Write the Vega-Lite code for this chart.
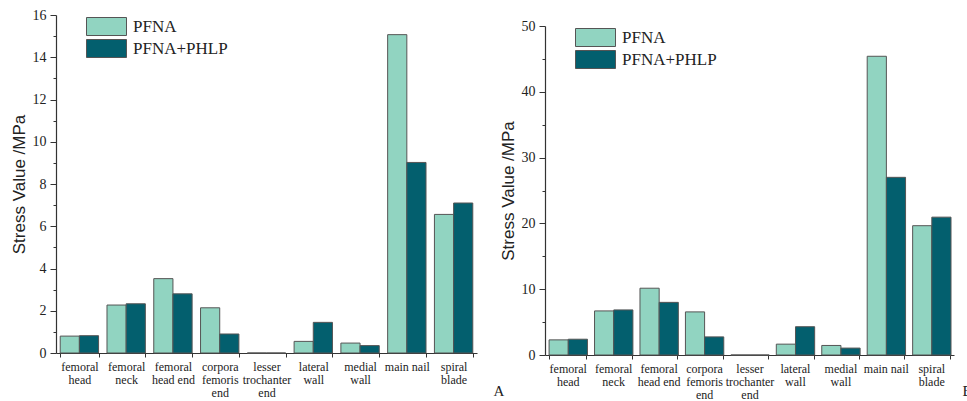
{
  "$schema": "https://vega.github.io/schema/vega-lite/v6.json",
  "padding": {"left": 10, "top": 8, "right": 0, "bottom": 0},
  "background": "white",
  "spacing": -5,
  "config": {
    "font": "Liberation Serif",
    "view": {"stroke": null},
    "axis": {"labelFont": "Liberation Serif", "titleFont": "Liberation Serif", "domainColor": "#333", "tickColor": "#333", "labelColor": "#222", "titleColor": "#222", "grid": false, "titleFontWeight": "normal"},
    "legend": {"labelFont": "Liberation Serif"}
  },
  "datasets": {
    "left": [
      {"site": "femoral head", "group": "PFNA", "stress": 0.8},
      {"site": "femoral head", "group": "PFNA+PHLP", "stress": 0.82},
      {"site": "femoral neck", "group": "PFNA", "stress": 2.27},
      {"site": "femoral neck", "group": "PFNA+PHLP", "stress": 2.33},
      {"site": "femoral head end", "group": "PFNA", "stress": 3.52},
      {"site": "femoral head end", "group": "PFNA+PHLP", "stress": 2.8},
      {"site": "corpora femoris end", "group": "PFNA", "stress": 2.14},
      {"site": "corpora femoris end", "group": "PFNA+PHLP", "stress": 0.9},
      {"site": "lesser trochanter end", "group": "PFNA", "stress": 0},
      {"site": "lesser trochanter end", "group": "PFNA+PHLP", "stress": 0},
      {"site": "lateral wall", "group": "PFNA", "stress": 0.55},
      {"site": "lateral wall", "group": "PFNA+PHLP", "stress": 1.45},
      {"site": "medial wall", "group": "PFNA", "stress": 0.47},
      {"site": "medial wall", "group": "PFNA+PHLP", "stress": 0.35},
      {"site": "main nail", "group": "PFNA", "stress": 15.07},
      {"site": "main nail", "group": "PFNA+PHLP", "stress": 9.02},
      {"site": "spiral blade", "group": "PFNA", "stress": 6.56},
      {"site": "spiral blade", "group": "PFNA+PHLP", "stress": 7.1}
    ],
    "right": [
      {"site": "femoral head", "group": "PFNA", "stress": 2.3},
      {"site": "femoral head", "group": "PFNA+PHLP", "stress": 2.4},
      {"site": "femoral neck", "group": "PFNA", "stress": 6.7},
      {"site": "femoral neck", "group": "PFNA+PHLP", "stress": 6.85},
      {"site": "femoral head end", "group": "PFNA", "stress": 10.15},
      {"site": "femoral head end", "group": "PFNA+PHLP", "stress": 8.0},
      {"site": "corpora femoris end", "group": "PFNA", "stress": 6.55},
      {"site": "corpora femoris end", "group": "PFNA+PHLP", "stress": 2.75},
      {"site": "lesser trochanter end", "group": "PFNA", "stress": 0},
      {"site": "lesser trochanter end", "group": "PFNA+PHLP", "stress": 0},
      {"site": "lateral wall", "group": "PFNA", "stress": 1.65},
      {"site": "lateral wall", "group": "PFNA+PHLP", "stress": 4.3},
      {"site": "medial wall", "group": "PFNA", "stress": 1.45},
      {"site": "medial wall", "group": "PFNA+PHLP", "stress": 1.05},
      {"site": "main nail", "group": "PFNA", "stress": 45.4},
      {"site": "main nail", "group": "PFNA+PHLP", "stress": 27.0},
      {"site": "spiral blade", "group": "PFNA", "stress": 19.65},
      {"site": "spiral blade", "group": "PFNA+PHLP", "stress": 20.95}
    ]
  },
  "resolve": {"legend": {"color": "independent"}, "scale": {"y": "independent"}},
  "hconcat": [
    {
      "width": 421,
      "height": 338,
      "data": {"name": "left"},
      "mark": {"type": "bar", "stroke": "#555", "strokeWidth": 1},
      "encoding": {
        "x": {
          "field": "site", "type": "nominal", "sort": null,
          "scale": {"paddingInner": 0.18, "paddingOuter": 0.09},
          "axis": {
            "title": "A", "titleAnchor": "end", "titleAlign": "left", "titleBaseline": "alphabetic",
            "titleX": 437, "titleY": 42, "titleFontSize": 15,
            "labelAngle": 0, "labelFontSize": 12, "labelLineHeight": 13, "labelPadding": 4,
            "tickBand": "extent", "tickSize": 4, "domainWidth": 1.2,
            "labelExpr": "datum.value == null ? '' : datum.value == 'femoral head end' ? ['femoral', 'head end'] : datum.value == 'main nail' ? 'main nail' : split(datum.value, ' ')"
          }
        },
        "xOffset": {"field": "group", "type": "nominal", "scale": {"paddingInner": 0, "paddingOuter": 0}},
        "y": {
          "field": "stress", "type": "quantitative",
          "scale": {"domain": [0, 16], "nice": false},
          "axis": {
            "title": "Stress Value /MPa", "titleFont": "Liberation Sans", "titleFontSize": 17, "titlePadding": 4,
            "values": [0, 1, 2, 3, 4, 5, 6, 7, 8, 9, 10, 11, 12, 13, 14, 15, 16],
            "labelExpr": "datum.value % 2 == 0 ? datum.label : ''",
            "labelFontSize": 14, "labelPadding": 4, "domainWidth": 1.2,
            "tickSize": {"condition": {"test": "datum.value % 2 == 1", "value": 3}, "value": 6}
          }
        },
        "color": {
          "field": "group", "type": "nominal",
          "scale": {"domain": ["PFNA", "PFNA+PHLP"], "range": ["#91d4c1", "#035f6e"]},
          "legend": {
            "title": null, "orient": "none", "legendX": 30, "legendY": 1, "padding": 0,
            "symbolType": "M-1,-0.9H3V0.9H-1Z", "symbolSize": 400,
            "symbolStrokeColor": "#555", "symbolStrokeWidth": 1, "symbolOpacity": 1,
            "labelFontSize": 17, "labelColor": "#222", "rowPadding": -2, "labelOffset": 26
          }
        }
      }
    },
    {
      "width": 409,
      "height": 340,
      "data": {"name": "right"},
      "mark": {"type": "bar", "stroke": "#555", "strokeWidth": 1},
      "encoding": {
        "x": {
          "field": "site", "type": "nominal", "sort": null,
          "scale": {"paddingInner": 0.18, "paddingOuter": 0.09},
          "axis": {
            "title": "B", "titleAnchor": "end", "titleAlign": "left", "titleBaseline": "alphabetic",
            "titleX": 417, "titleY": 40, "titleFontSize": 15,
            "labelAngle": 0, "labelFontSize": 12, "labelLineHeight": 13, "labelPadding": 4,
            "tickBand": "extent", "tickSize": 4, "domainWidth": 1.2,
            "labelExpr": "datum.value == null ? '' : datum.value == 'femoral head end' ? ['femoral', 'head end'] : datum.value == 'main nail' ? 'main nail' : split(datum.value, ' ')"
          }
        },
        "xOffset": {"field": "group", "type": "nominal", "scale": {"paddingInner": 0, "paddingOuter": 0}},
        "y": {
          "field": "stress", "type": "quantitative",
          "scale": {"domain": [0, 50], "nice": false, "range": [340, 11]},
          "axis": {
            "title": "Stress Value /MPa", "titleFont": "Liberation Sans", "titleFontSize": 17, "titlePadding": 4,
            "values": [0, 5, 10, 15, 20, 25, 30, 35, 40, 45, 50],
            "labelExpr": "datum.value % 10 == 0 ? datum.label : ''",
            "labelFontSize": 14, "labelPadding": 4, "domainWidth": 1.2,
            "tickSize": {"condition": {"test": "datum.value % 10 == 5", "value": 3}, "value": 6}
          }
        },
        "color": {
          "field": "group", "type": "nominal",
          "scale": {"domain": ["PFNA", "PFNA+PHLP"], "range": ["#91d4c1", "#035f6e"]},
          "legend": {
            "title": null, "orient": "none", "legendX": 30, "legendY": 12, "padding": 0,
            "symbolType": "M-1,-0.9H3V0.9H-1Z", "symbolSize": 400,
            "symbolStrokeColor": "#555", "symbolStrokeWidth": 1, "symbolOpacity": 1,
            "labelFontSize": 17, "labelColor": "#222", "rowPadding": -2, "labelOffset": 26
          }
        }
      }
    }
  ]
}
